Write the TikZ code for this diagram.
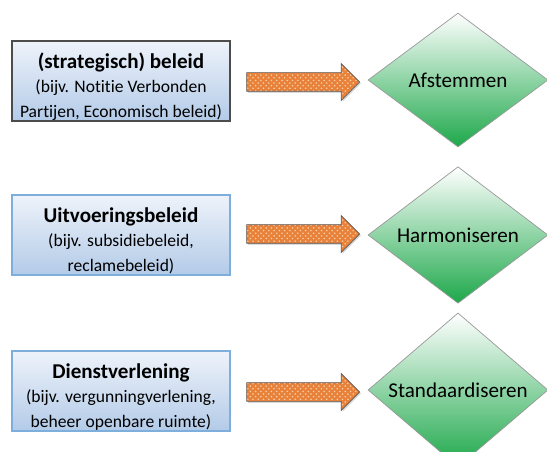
\documentclass[tikz,border=0pt]{standalone}
\usepackage{fontspec}
\setmainfont{Carlito}[Ligatures=NoCommon]
\usetikzlibrary{shapes.geometric,shapes.arrows,patterns,shadows}
\definecolor{boxtop}{HTML}{EEF3FA}
\definecolor{boxbot}{HTML}{B3CBE8}
\definecolor{boxline}{HTML}{7EAEDC}
\definecolor{greenbot}{HTML}{1DA84A}
\definecolor{arrowfill}{HTML}{E8813A}
\definecolor{arrowdot}{HTML}{F7CFA8}
\newcommand\titel{\fontsize{12}{15}\selectfont\bfseries\rule{0pt}{15pt}}
\begin{document}
\begin{tikzpicture}[x=0.02cm,y=-0.02cm,
  beleid/.style={rectangle,draw=boxline,line width=0.8pt,top color=boxtop,
    bottom color=boxbot,minimum width=4.36cm,minimum height=1.6cm,
    align=center,inner sep=0pt,font=\fontsize{10}{14}\selectfont,
    drop shadow={opacity=0.25,shadow xshift=0.6pt,shadow yshift=-0.6pt}},
  ruit/.style={diamond,draw=gray!80,top color=white,bottom color=greenbot,
    minimum width=3.6cm,minimum height=2.68cm,inner sep=0pt,
    font=\fontsize{12}{14}\selectfont},
  pijl/.style={single arrow,draw=gray!70!black,
    drop shadow={opacity=0.3,shadow xshift=0.8pt,shadow yshift=-0.8pt},
    preaction={fill=arrowfill},
    pattern=crosshatch dots,pattern color=arrowdot,
    single arrow head extend=0.18cm,single arrow tip angle=90,
    single arrow head indent=0pt,minimum height=2.26cm,inner sep=0pt,
    text height=0.36cm,text depth=0pt,text width=0pt}]
\clip (0,0) rectangle (547,452);
% bovenste rij
\node[beleid,draw=gray!60!black] (b1) at (121,81)
  {{\titel (strategisch) beleid}\\ (bijv. Notitie Verbonden\\ Partijen, Economisch beleid)};
\node[pijl] (p1) at (298.5,82) {};
\node[ruit] (r1) at (458,80) {Afstemmen};
% middelste rij
\node[beleid] (b2) at (121,235)
  {{\titel Uitvoeringsbeleid}\\ (bijv. subsidiebeleid,\\ reclamebeleid)};
\node[pijl] (p2) at (298.5,234) {};
\node[ruit] (r2) at (458,235) {Harmoniseren};
% onderste rij
\node[beleid] (b3) at (121,391)
  {{\titel Dienstverlening}\\ (bijv. vergunningverlening,\\ beheer openbare ruimte)};
\node[pijl] (p3) at (298.5,392) {};
\node[ruit] (r3) at (458,390) {Standaardiseren};
\end{tikzpicture}
\end{document}
